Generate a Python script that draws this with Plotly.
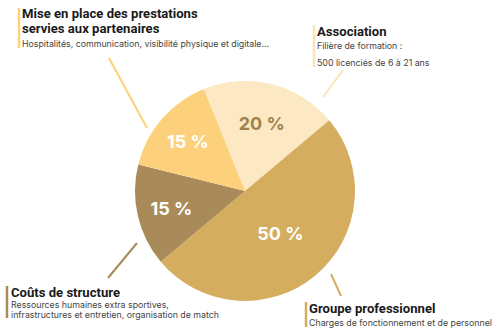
import plotly.graph_objects as go

# Data
categories = ["Association", "Groupe professionnel", "Coûts de structure",
              "Mise en place des prestations servies aux partenaires"]
shares = [20, 50, 15, 15]
slice_colors = ["#FCE8C2", "#D4AD5F", "#A88B58", "#FDD17C"]
text_colors = ["#9E824E", "#FFFFFF", "#FFFFFF", "#FFFFFF"]

W, H = 500, 332

def px(x):
    return x / W

def py(y):
    return 1 - y / H

fig = go.Figure(go.Pie(
    labels=categories,
    values=shares,
    sort=False,
    direction="clockwise",
    rotation=-22,
    marker=dict(colors=slice_colors, line=dict(width=0)),
    texttemplate="%{value} %",
    textposition="inside",
    insidetextorientation="horizontal",
    textfont=dict(family="Inter", size=18, color=text_colors, weight="bold"),
    hoverinfo="label+percent",
    showlegend=False,
    domain=dict(x=[px(135), px(355)], y=[py(301), py(81)]),
))

shapes = []
annotations = []

def vbar(x, y0, y1, color):
    shapes.append(dict(type="line", xref="paper", yref="paper",
                       x0=px(x), x1=px(x), y0=py(y0), y1=py(y1),
                       line=dict(color=color, width=2.5)))

def leader(x0, y0, x1, y1, color):
    shapes.append(dict(type="line", xref="paper", yref="paper",
                       x0=px(x0), x1=px(x1), y0=py(y0), y1=py(y1),
                       line=dict(color=color, width=2)))

def txt(x, y, s, size, bold=False, color="#1a1a1a"):
    annotations.append(dict(
        xref="paper", yref="paper", x=px(x), y=py(y), text=s,
        showarrow=False, xanchor="left", yanchor="middle", align="left",
        font=dict(family="Roboto" if bold else "Inter", size=size, color=color,
                  weight="bold" if bold else "normal")))

# Mise en place des prestations
vbar(19, 8, 48, slice_colors[3])
leader(109, 58, 147, 128, slice_colors[3])
txt(20, 14, "Mise en place des prestations", 13.1, True)
txt(20, 29, "servies aux partenaires", 13.1, True)
txt(20, 43, "Hospitalités, communication, visibilité physique et digitale…", 8.8, False, "#444")

# Association
vbar(314, 25, 67, "#FBE5B5")
leader(343, 70, 323, 97, "#FBE5B5")
txt(315, 32, "Association", 13.1, True)
txt(315, 46, "Filière de formation :", 8.8, False, "#444")
txt(315, 62, "500 licenciés de 6 à 21 ans", 8.8, False, "#444")

# Coûts de structure
vbar(7, 286, 318, slice_colors[2])
leader(137, 243, 108, 278, slice_colors[2])
txt(9, 292, "Coûts de structure", 13.1, True)
txt(9, 304, "Ressources humaines extra sportives,", 8.8, False, "#444")
txt(9, 314, "infrastructures et entretien, organisation de match", 8.8, False, "#444")

# Groupe professionnel
vbar(306, 302, 327, slice_colors[1])
leader(331, 274, 341, 296, slice_colors[1])
txt(307, 308, "Groupe professionnel", 13.1, True)
txt(307, 322, "Charges de fonctionnement et de personnel", 8.8, False, "#444")

fig.update_layout(
    width=W, height=H,
    margin=dict(l=0, r=0, t=0, b=0),
    paper_bgcolor="white",
    plot_bgcolor="white",
    shapes=shapes,
    annotations=annotations,
)

fig.write_html("out.html")
